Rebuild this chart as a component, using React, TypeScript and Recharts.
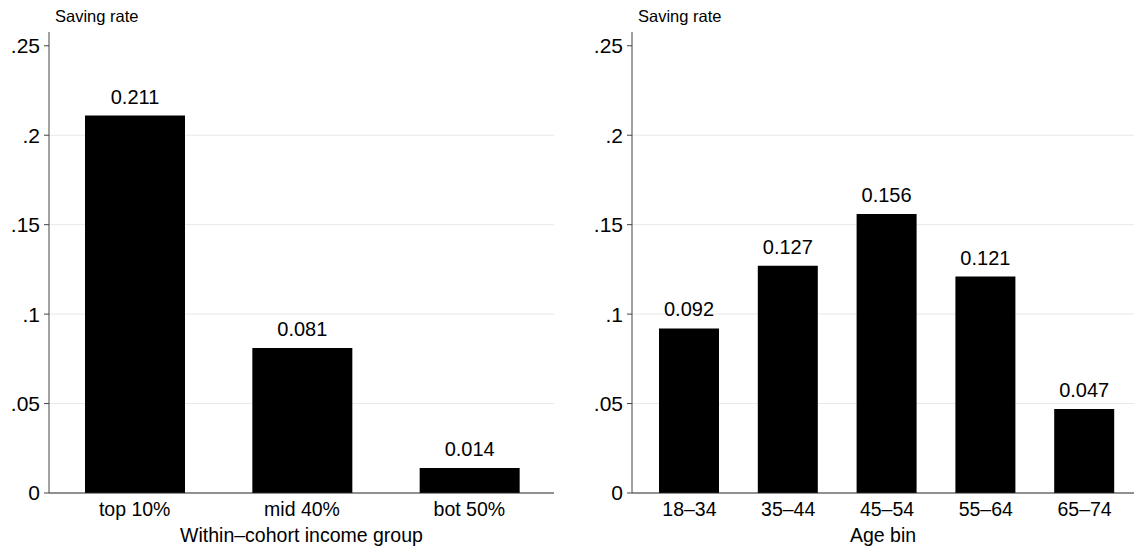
import React from "react";
import { BarChart, Bar, XAxis, YAxis, CartesianGrid, LabelList, Label } from "recharts";

const incomeGroups = ["top 10%", "mid 40%", "bot 50%"];
const incomeRates = [0.211, 0.081, 0.014];
const ageBins = ["18–34", "35–44", "45–54", "55–64", "65–74"];
const ageRates = [0.092, 0.127, 0.156, 0.121, 0.047];
const yTicks = [0, 0.05, 0.1, 0.15, 0.2, 0.25];
const gridValues = [0.05, 0.1, 0.15, 0.2];
const yMax = 0.2577;

const FONT = "'Liberation Sans', Arial, Helvetica, sans-serif";

const incomeData = incomeGroups.map((g, i) => ({ name: g, value: incomeRates[i] }));
const ageData = ageBins.map((g, i) => ({ name: g, value: ageRates[i] }));

const fmtY = (v: number) => (v === 0 ? "0" : String(v).replace(/^0/, ""));
const fmtLabel = (v: any) => Number(v).toFixed(3);

type PanelProps = {
  data: { name: string; value: number }[];
  width: number;
  marginLeft: number;
  barSize: number;
  padLeft: number;
  padRight: number;
  xTitle: string;
};

function Panel({ data, width, marginLeft, barSize, padLeft, padRight, xTitle }: PanelProps) {
  return (
    <BarChart
      width={width}
      height={549}
      data={data}
      margin={{ top: 32, right: 0, left: marginLeft, bottom: 0 }}
      barCategoryGap={0}
    >
      <CartesianGrid
        vertical={false}
        horizontalValues={gridValues}
        stroke="#e8e8e8"
        strokeWidth={1}
      />
      <XAxis
        dataKey="name"
        height={56}
        tickLine={false}
        tickSize={0}
        tickMargin={9}
        padding={{ left: padLeft, right: padRight }}
        axisLine={{ stroke: "#222", strokeWidth: 1 }}
        tick={{ fill: "#000", fontSize: 19.5, fontFamily: FONT }}
        interval={0}
      >
        <Label
          value={xTitle}
          position="insideBottom"
          offset={7}
          style={{ fill: "#000", fontSize: 19.5, fontFamily: FONT }}
        />
      </XAxis>
      <YAxis
        width={45}
        domain={[0, yMax]}
        ticks={yTicks}
        tickFormatter={fmtY}
        tickSize={5}
        tickMargin={4}
        allowDataOverflow
        axisLine={{ stroke: "#444", strokeWidth: 1 }}
        tickLine={{ stroke: "#444" }}
        tick={{ fill: "#000", fontSize: 21, fontFamily: FONT }}
      />
      <Bar dataKey="value" fill="#000" barSize={barSize} isAnimationActive={false}>
        <LabelList
          dataKey="value"
          position="top"
          offset={12}
          formatter={fmtLabel}
          style={{ fill: "#000", fontSize: 20, fontFamily: FONT }}
        />
      </Bar>
    </BarChart>
  );
}

const titleStyle: React.CSSProperties = {
  position: "absolute",
  top: 6,
  fontSize: 16.5,
  fontFamily: FONT,
  color: "#000",
  lineHeight: "20px",
  whiteSpace: "nowrap",
};

export default function App() {
  return (
    <div
      style={{
        position: "absolute",
        left: 0,
        top: 0,
        width: 1134,
        height: 549,
        background: "#fff",
        overflow: "hidden",
      }}
    >
      <div style={{ position: "absolute", left: 0, top: 0 }}>
        <Panel
          data={incomeData}
          width={554}
          marginLeft={4}
          barSize={100}
          padLeft={2}
          padRight={1}
          xTitle="Within–cohort income group"
        />
      </div>
      <div style={{ position: "absolute", left: 570, top: 0 }}>
        <Panel
          data={ageData}
          width={564}
          marginLeft={17}
          barSize={60}
          padLeft={8}
          padRight={0}
          xTitle="Age bin"
        />
      </div>
      <div style={{ ...titleStyle, left: 55 }}>Saving rate</div>
      <div style={{ ...titleStyle, left: 638 }}>Saving rate</div>
    </div>
  );
}
